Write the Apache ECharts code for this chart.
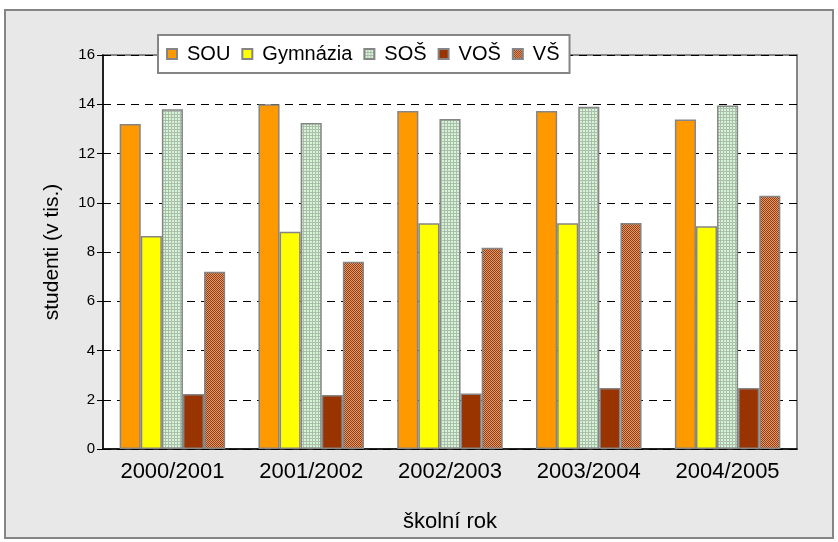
<!DOCTYPE html>
<html>
<head>
<meta charset="utf-8">
<script src="https://cdn.jsdelivr.net/npm/echarts@6/dist/echarts.min.js"></script>
<style>
    html, body { margin: 0; padding: 0; background: #fff; }
    #main { width: 838px; height: 542px; }
</style>
</head>
<body>
<div id="main"></div>
<script>
// school years
var years = ['2000/2001', '2001/2002', '2002/2003', '2003/2004', '2004/2005'];
// students in thousands
var sou = [13.2, 14.0, 13.73, 13.73, 13.38];
var gymnazia = [8.65, 8.82, 9.17, 9.17, 9.05];
var sos = [13.8, 13.24, 13.4, 13.9, 13.95];
var vos = [2.23, 2.19, 2.25, 2.48, 2.48];
var vs = [7.2, 7.6, 8.17, 9.18, 10.28];
var yTicks = [0, 2, 4, 6, 8, 10, 12, 14, 16];

// small canvas patterns for the textured bars
function makePattern(size, base, draw) {
    var c = document.createElement('canvas');
    c.width = size;
    c.height = size;
    var ctx = c.getContext('2d');
    ctx.fillStyle = base;
    ctx.fillRect(0, 0, size, size);
    draw(ctx);
    return c;
}
var gridPat = makePattern(3, '#d2f7d2', function (ctx) {
    ctx.fillStyle = '#aebcae';
    ctx.fillRect(0, 0, 3, 1);
    ctx.fillRect(0, 0, 1, 3);
});
var brickPat = makePattern(2, '#e09a6c', function (ctx) {
    ctx.fillStyle = '#983c12';
    ctx.fillRect(0, 0, 1, 1);
    ctx.fillRect(1, 1, 1, 1);
});

var font = 'Liberation Sans, Arial, sans-serif';
var border = { borderColor: '#858585', borderWidth: 1.5 };

function barSeries(name, data, color) {
    return {
        name: name,
        type: 'bar',
        data: data,
        barGap: '0%',
        barCategoryGap: '24%',
        itemStyle: Object.assign({ color: color }, border)
    };
}

var myChart = echarts.init(document.getElementById('main'));
myChart.setOption({
    animation: false,
    backgroundColor: '#fff',
    graphic: [{
        type: 'rect',
        z: -10,
        shape: { x: 5, y: 10, width: 828, height: 528 },
        style: { fill: '#e8e8e8', stroke: '#858585', lineWidth: 2 }
    }],
    legend: {
        left: 158,
        top: 35,
        padding: [9, 10, 9, 8],
        itemGap: 11,
        itemWidth: 10,
        itemHeight: 10,
        selectedMode: false,
        backgroundColor: '#fff',
        borderColor: '#858585',
        borderWidth: 2,
        icon: 'rect',
        textStyle: { fontFamily: font, fontSize: 20, color: '#000', padding: [0, 0, 0, 5] },
        data: ['SOU', 'Gymnázia', 'SOŠ', 'VOŠ', 'VŠ']
    },
    grid: {
        left: 103,
        right: 41,
        top: 55,
        bottom: 93,
        show: true,
        backgroundColor: '#fff',
        borderColor: '#858585',
        borderWidth: 2
    },
    xAxis: {
        type: 'category',
        data: years,
        name: 'školní rok',
        nameLocation: 'middle',
        nameGap: 62,
        nameTextStyle: { fontFamily: font, fontSize: 22, color: '#000' },
        axisLine: { lineStyle: { color: '#000', width: 1.5 } },
        axisTick: { length: 7, lineStyle: { color: '#000' } },
        axisLabel: { fontFamily: font, fontSize: 22, color: '#000', margin: 12, interval: 0 }
    },
    yAxis: {
        type: 'value',
        min: yTicks[0],
        max: yTicks[yTicks.length - 1],
        interval: 2,
        name: 'studenti (v tis.)',
        nameLocation: 'middle',
        nameGap: 40,
        nameTextStyle: { fontFamily: font, fontSize: 21, color: '#000' },
        axisLine: { show: true, lineStyle: { color: '#000', width: 1.5 } },
        axisTick: { show: true, length: 6, lineStyle: { color: '#000' } },
        axisLabel: { fontFamily: font, fontSize: 15, color: '#000', margin: 8 },
        splitLine: { lineStyle: { color: '#000', width: 1, type: [8, 6] } }
    },
    series: [
        barSeries('SOU', sou, '#ff9900'),
        barSeries('Gymnázia', gymnazia, '#ffff00'),
        barSeries('SOŠ', sos, { image: gridPat, repeat: 'repeat' }),
        barSeries('VOŠ', vos, '#993300'),
        barSeries('VŠ', vs, { image: brickPat, repeat: 'repeat' })
    ]
});
</script>
</body>
</html>
